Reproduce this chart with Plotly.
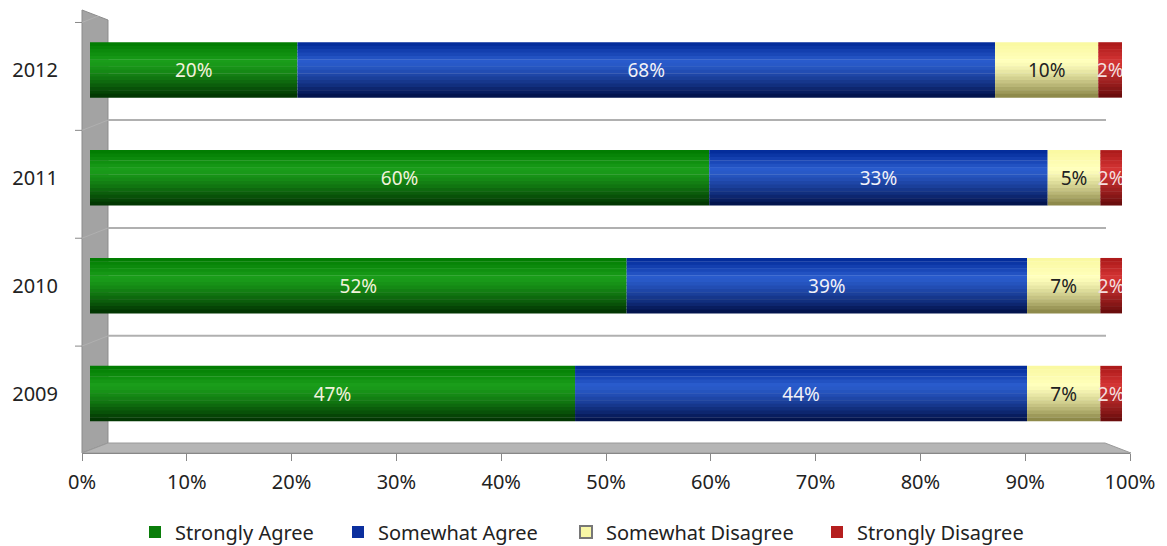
import plotly.graph_objects as go

years = ["2009", "2010", "2011", "2012"]
series_names = ["Strongly Agree", "Somewhat Agree", "Somewhat Disagree", "Strongly Disagree"]
strongly_agree = [47.0, 52.0, 60.0, 20.1]
somewhat_agree = [43.8, 38.8, 32.8, 67.6]
somewhat_disagree = [7.1, 7.1, 5.1, 10.0]
strongly_disagree = [2.1, 2.1, 2.1, 2.3]
x_ticks = [0, 10, 20, 30, 40, 50, 60, 70, 80, 90, 100]

series_values = [strongly_agree, somewhat_agree, somewhat_disagree, strongly_disagree]
# colour profiles: (top, highlight, bottom)
profiles = [
    ((0, 122, 0), (26, 158, 26), (0, 48, 0)),
    ((0, 40, 150), (42, 92, 205), (0, 15, 70)),
    ((250, 248, 160), (255, 255, 188), (135, 130, 68)),
    ((170, 25, 25), (212, 52, 52), (100, 10, 10)),
]
legend_colors = ["#0a7d0a", "#0b2f9e", "#f8f7a6", "#b51e1e"]
text_colors = ["#f2f2dc", "#f2f2f8", "#222222", "#f4dede"]
legend_text_px = [175, 378, 606, 857]

FONT = "Noto Sans"
W = 1167
H = 546
L, R, T, B = 82, 37, 16, 93
PW = W - L - R
PH = H - T - B

BAR_W = 0.51
N = 16

def px_to_paper_x(px):
    return (px - L) / PW

def py_to_paper_y(py):
    return (H - B - py) / PH

def interp(c1, c2, f):
    return tuple(int(round(a + (b - a) * f)) for a, b in zip(c1, c2))

def shade(profile, t):
    top, hi, bot = profile
    if t < 0.35:
        return interp(top, hi, t / 0.35)
    return interp(hi, bot, ((t - 0.35) / 0.65) ** 1.3)

fig = go.Figure()

bases = []
acc = [0.0] * len(years)
for vals in series_values:
    bases.append(list(acc))
    acc = [a + v for a, v in zip(acc, vals)]

legend_ids = ["legend", "legend2", "legend3", "legend4"]

sw = BAR_W / N
for si, vals in enumerate(series_values):
    for k in range(N):
        t = (k + 0.5) / N
        c = shade(profiles[si], t)
        fig.add_trace(go.Bar(
            y=years, x=vals, base=bases[si], orientation="h",
            width=sw + 0.004, offset=BAR_W / 2 - (k + 1) * sw - 0.002,
            marker=dict(color="rgb(%d,%d,%d)" % c, line=dict(width=0)),
            showlegend=False, hoverinfo="skip", xaxis="x", yaxis="y",
        ))
    fig.add_trace(go.Bar(
        y=years, x=vals, base=bases[si], orientation="h", name=series_names[si],
        width=BAR_W, offset=-BAR_W / 2,
        marker=dict(color="rgba(0,0,0,0)", line=dict(width=0)),
        text=["%d%%" % round(v) for v in vals], textposition="inside", textangle=0,
        insidetextanchor="middle", constraintext="none",
        textfont=dict(color=text_colors[si], size=19, family=FONT),
        showlegend=False, xaxis="x", yaxis="y",
    ))
    # legend entries
    fig.add_trace(go.Scatter(
        x=[None], y=[None], mode="markers", name=series_names[si],
        legend=legend_ids[si],
        marker=dict(symbol="square", size=14, color=legend_colors[si],
                    line=dict(color="#777777", width=1) if si == 2 else dict(width=0)),
        xaxis="x", yaxis="y",
    ))

shapes = []

def path(points):
    s = "M %f,%f " % (px_to_paper_x(points[0][0]), py_to_paper_y(points[0][1]))
    for p in points[1:]:
        s += "L %f,%f " % (px_to_paper_x(p[0]), py_to_paper_y(p[1]))
    return s + "Z"

# back wall (left side) and floor
shapes.append(dict(type="path", xref="paper", yref="paper",
                   path=path([(82, 10), (108, 20), (108, 443), (82, 453)]),
                   fillcolor="#a3a3a3", line=dict(color="#8c8c8c", width=1), layer="below"))
shapes.append(dict(type="path", xref="paper", yref="paper",
                   path=path([(82, 453), (108, 443), (1105, 443), (1131, 453)]),
                   fillcolor="#b5b5b5", line=dict(color="#9a9a9a", width=1), layer="below"))
# back gridlines at category boundaries
for b in [0.5, 1.5, 2.5, 3.5]:
    shapes.append(dict(type="line", xref="paper", yref="y",
                       x0=px_to_paper_x(108), x1=px_to_paper_x(1106), y0=b + 0.035, y1=b + 0.035,
                       line=dict(color="#b0b0b0", width=2), layer="below"))
    shapes.append(dict(type="line", xref="paper", yref="y",
                       x0=px_to_paper_x(82), x1=px_to_paper_x(108), y0=b - 0.06, y1=b + 0.035,
                       line=dict(color="#b0b0b0", width=1), layer="below"))
    shapes.append(dict(type="line", xref="paper", yref="y",
                       x0=px_to_paper_x(75), x1=px_to_paper_x(82), y0=b - 0.06, y1=b - 0.06,
                       line=dict(color="#888888", width=1), layer="below"))

legend_layouts = {}
for si, lid in enumerate(legend_ids):
    legend_layouts[lid] = dict(
        orientation="h", x=px_to_paper_x(legend_text_px[si] - 40), xanchor="left",
        y=py_to_paper_y(532), yanchor="middle",
        font=dict(size=20, family=FONT, color="#222222"),
        itemwidth=30, itemsizing="constant", bgcolor="rgba(0,0,0,0)",
    )

fig.update_layout(
    width=W, height=H,
    margin=dict(l=L, r=R, t=T, b=B, pad=0, autoexpand=False),
    paper_bgcolor="white", plot_bgcolor="rgba(0,0,0,0)",
    barmode="overlay", bargap=0.49,
    uniformtext=dict(minsize=19, mode="show"),
    font=dict(family=FONT, color="#222222"),
    shapes=shapes,
    xaxis=dict(domain=[px_to_paper_x(90), px_to_paper_x(1122)], range=[0, 100], anchor="y",
               showticklabels=False, showgrid=False, zeroline=False, showline=False,
               ticks="", fixedrange=True, automargin=False),
    xaxis2=dict(anchor="y", side="bottom", range=[0, 100], domain=[0, 1],
                tickvals=x_ticks, ticktext=["%d%%" % v for v in x_ticks],
                showgrid=False, zeroline=False, showline=True, linecolor="#888888", linewidth=1,
                ticks="outside", ticklen=7, tickcolor="#888888", ticklabelstandoff=4,
                automargin=False,
                tickfont=dict(size=20, family=FONT, color="#222222")),
    yaxis=dict(range=[-0.551, 3.5], type="category", showgrid=False, zeroline=False,
               anchor="free", position=0,
               showline=False, ticks="", ticklabelstandoff=24, automargin=False,
               tickfont=dict(size=20, family=FONT, color="#222222")),
    showlegend=True,
    **legend_layouts,
)
# dummy trace on xaxis2 so it renders
fig.add_trace(go.Scatter(x=[0, 100], y=[None, None], xaxis="x2", yaxis="y",
                         showlegend=False, hoverinfo="skip", mode="lines"))

fig.write_html("out.html", config={"displayModeBar": False},
               post_script="document.body.style.margin='0';")
